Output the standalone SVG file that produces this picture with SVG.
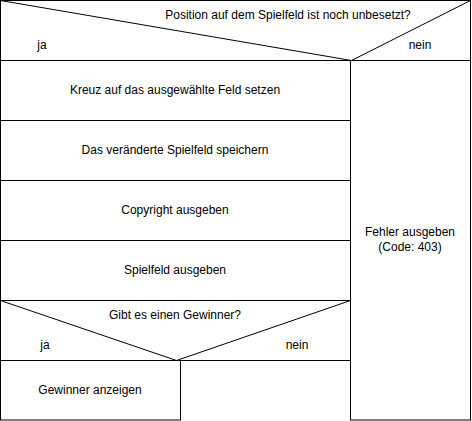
<svg xmlns="http://www.w3.org/2000/svg" width="472" height="421" viewBox="0 0 472 421">
<style>
.b{fill:#fff;stroke:#000;stroke-width:1}
.l{fill:none;stroke:#000;stroke-width:1}
text{font-family:"Liberation Sans",Arial,sans-serif;font-size:12px;fill:#000;text-anchor:middle}
</style>
<rect x="0" y="0" width="472" height="421" fill="#fff"/>
<g id="cond1">
<rect class="b" x="0.5" y="0.5" width="470" height="60"/>
<text x="288" y="19">Position auf dem Spielfeld ist noch unbesetzt?</text>
<text x="42" y="49">ja</text>
<text x="420" y="49">nein</text>
</g>
<g id="s1"><rect class="b" x="0.5" y="60.5" width="350" height="60"/><text x="175" y="94">Kreuz auf das ausgewählte Feld setzen</text></g>
<g id="s2"><rect class="b" x="0.5" y="120.5" width="350" height="60"/><text x="175" y="154">Das veränderte Spielfeld speichern</text></g>
<g id="s3"><rect class="b" x="0.5" y="180.5" width="350" height="60"/><text x="175" y="214">Copyright ausgeben</text></g>
<g id="s4"><rect class="b" x="0.5" y="240.5" width="350" height="60"/><text x="175" y="274">Spielfeld ausgeben</text></g>
<g id="cond2">
<rect class="b" x="0.5" y="300.5" width="350" height="60"/>
<text x="175" y="319">Gibt es einen Gewinner?</text>
<text x="45" y="349">ja</text>
<text x="297" y="349">nein</text>
</g>
<g id="win"><rect class="b" x="0.5" y="360.5" width="180" height="59.5"/><text x="90" y="394">Gewinner anzeigen</text></g>
<g id="err"><rect class="b" x="350.5" y="60.5" width="120" height="359.5"/><text x="410" y="236">Fehler ausgeben</text><text x="410" y="251">(Code: 403)</text></g>
<g id="connectors">
<path class="l" d="M0.5 0.5 L351.5 60.5 L470.5 0.5"/>
<path class="l" d="M0.5 300.5 L176.5 360.5 L350.5 300.5"/>
</g>
</svg>
